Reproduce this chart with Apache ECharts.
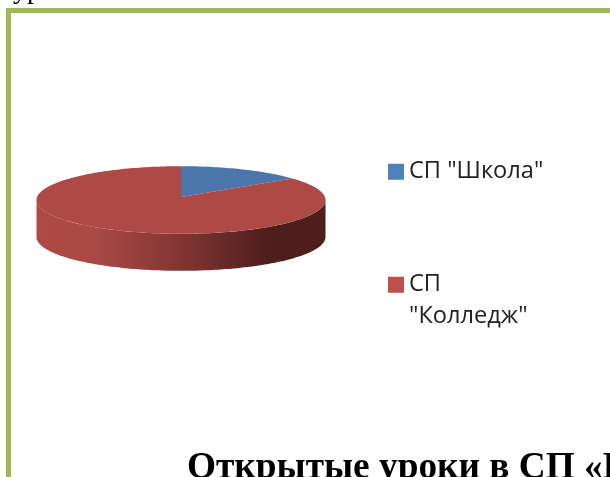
<!DOCTYPE html>
<html>
<head>
<meta charset="utf-8">
<style>
  html, body { margin: 0; padding: 0; background: #fff; }
  #chart { width: 610px; height: 477px; }
</style>
<script src="https://cdn.jsdelivr.net/npm/echarts@6/dist/echarts.min.js"></script>
</head>
<body>
<div id="chart"></div>
<script>
const categories = ['СП "Школа"', 'СП "Колледж"'];
const values = [14, 86];
const legendLabels = ['СП "Школа"', '\nСП\n"Колледж"'];
const topColors = ['#4a76ac', '#ae4a46'];
const legendColors = ['#4f81bd', '#c0504d'];
const headingText = 'Открытые уроки в СП «Колледж»';
const clippedText = 'ур';

const total = values.reduce((a, b) => a + b, 0);

// tilted pie: ECharts has no 3d pie in core, so draw it with custom series
const pie = { cx: 181, cy: 200, rx: 144.5, ry: 33.8, depth: 37, apexShift: -3 };

const pointAt = (angle, dy) => [
  pie.cx + pie.rx * Math.sin(angle),
  pie.cy - pie.ry * Math.cos(angle) + (dy || 0)
];

const arc = (from, to, dy) => {
  const steps = Math.max(2, Math.ceil(Math.abs(to - from) / 0.02));
  const pts = [];
  for (let i = 0; i <= steps; i++) {
    pts.push(pointAt(from + (to - from) * i / steps, dy));
  }
  return pts;
};

const wallGradient = new echarts.graphic.LinearGradient(0, 0, 1, 0, [
  { offset: 0, color: '#ae4a46' },
  { offset: 0.2, color: '#ab4945' },
  { offset: 0.5, color: '#823533' },
  { offset: 0.8, color: '#4e1e1d' },
  { offset: 1, color: '#4e1e1d' }
]);

const renderSlice = (params, api) => {
  const start = api.value(0) / total * Math.PI * 2;
  const end = api.value(1) / total * Math.PI * 2;
  const children = [];

  // side wall only shows on the front half
  const wallFrom = Math.max(start, Math.PI / 2);
  const wallTo = Math.min(end, Math.PI * 1.5);
  if (wallTo > wallFrom) {
    const upper = arc(wallFrom, wallTo, 0);
    const lower = arc(wallTo, wallFrom, pie.depth);
    children.push({
      type: 'polygon',
      shape: { points: upper.concat(lower) },
      style: { fill: wallGradient }
    });
  }

  const apex = [pie.cx, pie.cy + pie.apexShift];
  children.push({
    type: 'polygon',
    shape: { points: [apex].concat(arc(start, end, 0)) },
    style: { fill: topColors[params.seriesIndex] }
  });

  return { type: 'group', children: children };
};

let running = 0;
const series = categories.map((name, i) => {
  const from = running;
  running += values[i];
  return {
    name: name,
    type: 'custom',
    coordinateSystem: 'none',
    itemStyle: { color: legendColors[i] },
    renderItem: renderSlice,
    data: [[from, running]],
    silent: true
  };
});

const chart = echarts.init(document.getElementById('chart'));
chart.setOption({
  animation: false,
  backgroundColor: '#ffffff',
  legend: {
    orient: 'vertical',
    left: 388,
    top: 156,
    padding: 0,
    itemWidth: 16,
    itemHeight: 16,
    itemGap: 50,
    icon: 'rect',
    selectedMode: false,
    data: categories.map((name, i) => ({ name: name, itemStyle: { color: legendColors[i] } })),
    formatter: (name) => legendLabels[categories.indexOf(name)],
    textStyle: {
      fontFamily: 'Open Sans',
      fontSize: 23.6,
      lineHeight: 31.5,
      color: '#222222'
    }
  },
  graphic: [
    // green frame runs off the right and bottom of the picture
    { type: 'rect', shape: { x: 8.5, y: 10.5, width: 700, height: 600 },
      style: { fill: 'none', stroke: '#9bbb59', lineWidth: 5 } },
    { type: 'text', x: 187, y: 450,
      style: { text: headingText, fill: '#000', font: 'bold 37.3px "Liberation Serif"' } },
    { type: 'text', x: 13, y: -23,
      style: { text: clippedText, fill: '#000', font: '28px "Liberation Serif"' } }
  ],
  series: series
});
</script>
</body>
</html>
